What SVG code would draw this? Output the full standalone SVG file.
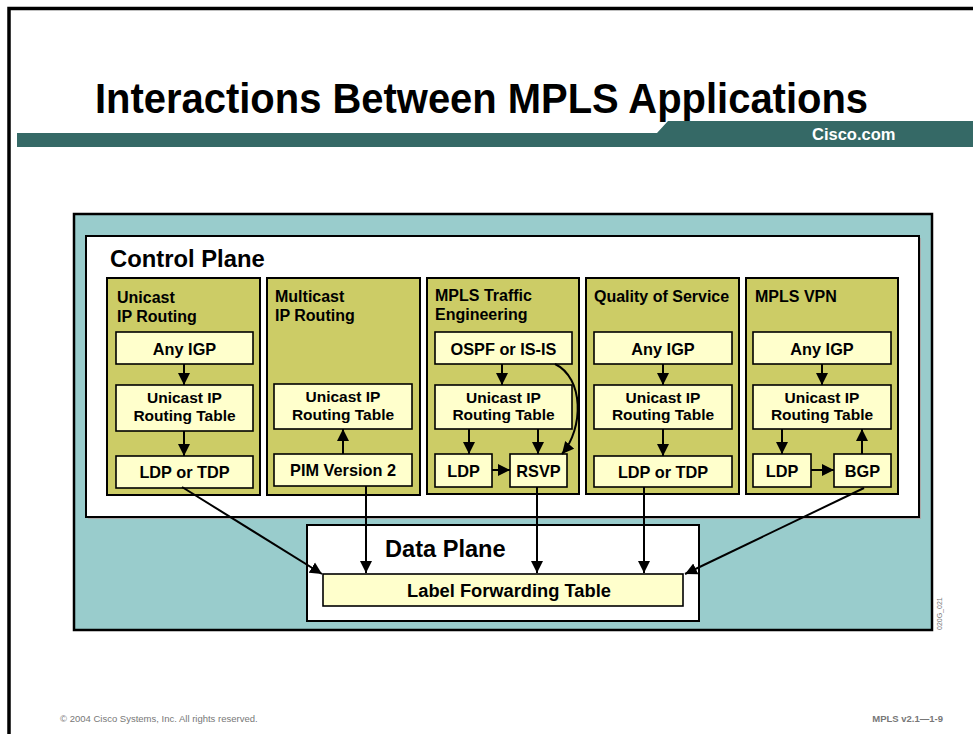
<svg xmlns="http://www.w3.org/2000/svg" width="973" height="734" viewBox="0 0 973 734">
<defs>
<style>
.t{font-family:"Liberation Sans",Arial,sans-serif;font-weight:bold;fill:#000}
.hd{font-size:16px}
.bx{font-size:16.3px;text-anchor:middle}
.tb{font-size:15.5px}
.col{fill:#cccc66;stroke:#000;stroke-width:2}
.box{fill:#ffffcc;stroke:#000;stroke-width:1.6}
.ln{fill:none;stroke:#000;stroke-width:2}
.ft{font-family:"Liberation Sans",Arial,sans-serif;fill:#777;font-size:9.5px}
</style>
<marker id="ah" markerUnits="userSpaceOnUse" markerWidth="13" markerHeight="13" viewBox="0 0 13 13" refX="12" refY="6.5" orient="auto">
<path d="M0,0.5 L12,6.5 L0,12.5 Z" fill="#000"/>
</marker>
</defs>
<rect width="973" height="734" fill="#fff"/>
<!-- frame -->
<path d="M9,734 V8.5 H973" fill="none" stroke="#000" stroke-width="3.5"/>
<!-- title -->
<text class="t" x="95" y="113" font-size="42" textLength="773" lengthAdjust="spacingAndGlyphs">Interactions Between MPLS Applications</text>
<path d="M17,133 H657 L668,121 H973 V147 H17 Z" fill="#356966"/>
<text class="t" x="812" y="140" font-size="16.5" style="fill:#fff">Cisco.com</text>

<!-- outer teal -->
<g id="outer">
<rect x="74" y="214" width="858" height="416" fill="#99cccc" stroke="#000" stroke-width="2.5"/>
</g>
<g id="control-plane">
<rect x="88" y="238" width="833" height="281" fill="#aaa"/>
<rect x="86" y="236" width="833" height="281" fill="#fff" stroke="#000" stroke-width="2"/>
<text class="t" x="110" y="267" font-size="23.8">Control Plane</text>
</g>

<g id="col-unicast">
<rect class="col" x="107" y="278" width="153" height="217"/>
<text class="t hd" x="117" y="303">Unicast</text>
<text class="t hd" x="117" y="322">IP Routing</text>
</g>
<g id="c1-igp"><rect class="box" x="116" y="332" width="137" height="32"/><text class="t bx" x="184.5" y="355">Any IGP</text></g>
<g id="c1-table"><rect class="box" x="116" y="385" width="137" height="46"/><text class="t bx tb" x="184.5" y="403">Unicast IP</text><text class="t bx tb" x="184.5" y="420.5">Routing Table</text></g>
<g id="c1-ldp"><rect class="box" x="116" y="456" width="137" height="32"/><text class="t bx" x="184.5" y="478">LDP or TDP</text></g>

<g id="col-multicast">
<rect class="col" x="267" y="278" width="153" height="217"/>
<text class="t hd" x="275" y="302">Multicast</text>
<text class="t hd" x="275" y="321">IP Routing</text>
</g>
<g id="c2-table"><rect class="box" x="274" y="384" width="138" height="45"/><text class="t bx tb" x="343" y="402">Unicast IP</text><text class="t bx tb" x="343" y="419.5">Routing Table</text></g>
<g id="c2-pim"><rect class="box" x="274" y="454" width="138" height="32"/><text class="t bx" x="343" y="476">PIM Version 2</text></g>

<g id="col-te">
<rect class="col" x="427" y="278" width="152" height="216"/>
<text class="t hd" x="435" y="301">MPLS Traffic</text>
<text class="t hd" x="435" y="320">Engineering</text>
</g>
<g id="c3-ospf"><rect class="box" x="435" y="332" width="137" height="32"/><text class="t bx" x="503.5" y="355">OSPF or IS-IS</text></g>
<g id="c3-table"><rect class="box" x="435" y="385" width="137" height="44"/><text class="t bx tb" x="503.5" y="402.5">Unicast IP</text><text class="t bx tb" x="503.5" y="420">Routing Table</text></g>
<g id="c3-ldp"><rect class="box" x="435" y="454" width="57" height="33"/><text class="t bx" x="463.5" y="477">LDP</text></g>
<g id="c3-rsvp"><rect class="box" x="510" y="454" width="57" height="33"/><text class="t bx" x="538.5" y="477">RSVP</text></g>

<g id="col-qos">
<rect class="col" x="586" y="278" width="153" height="216"/>
<text class="t hd" x="594" y="302">Quality of Service</text>
</g>
<g id="c4-igp"><rect class="box" x="594" y="332" width="138" height="32"/><text class="t bx" x="663" y="355">Any IGP</text></g>
<g id="c4-table"><rect class="box" x="594" y="385" width="138" height="44"/><text class="t bx tb" x="663" y="402.5">Unicast IP</text><text class="t bx tb" x="663" y="420">Routing Table</text></g>
<g id="c4-ldp"><rect class="box" x="594" y="456" width="138" height="31"/><text class="t bx" x="663" y="478">LDP or TDP</text></g>

<g id="col-vpn">
<rect class="col" x="746" y="278" width="152" height="216"/>
<text class="t hd" x="755" y="302">MPLS VPN</text>
</g>
<g id="c5-igp"><rect class="box" x="753" y="332" width="138" height="32"/><text class="t bx" x="822" y="355">Any IGP</text></g>
<g id="c5-table"><rect class="box" x="753" y="385" width="138" height="44"/><text class="t bx tb" x="822" y="402.5">Unicast IP</text><text class="t bx tb" x="822" y="420">Routing Table</text></g>
<g id="c5-ldp"><rect class="box" x="753" y="454" width="58" height="33"/><text class="t bx" x="782" y="477">LDP</text></g>
<g id="c5-bgp"><rect class="box" x="834" y="454" width="57" height="33"/><text class="t bx" x="862.5" y="477">BGP</text></g>

<g id="data-plane">
<rect x="307" y="525" width="392" height="96" fill="#fff" stroke="#000" stroke-width="2"/>
<text class="t" x="385" y="557" font-size="23.6">Data Plane</text>
</g>
<g id="lft">
<rect class="box" x="323" y="574" width="360" height="32"/>
<text class="t" x="509" y="597" font-size="18.3" text-anchor="middle">Label Forwarding Table</text>
</g>

<g id="connectors">
<line class="ln" x1="184" y1="364" x2="184" y2="385" marker-end="url(#ah)"/>
<line class="ln" x1="184" y1="431" x2="184" y2="456" marker-end="url(#ah)"/>
<line class="ln" x1="343" y1="454" x2="343" y2="429" marker-end="url(#ah)"/>
<line class="ln" x1="502" y1="364" x2="502" y2="385" marker-end="url(#ah)"/>
<line class="ln" x1="469" y1="429" x2="469" y2="454" marker-end="url(#ah)"/>
<line class="ln" x1="538" y1="429" x2="538" y2="454" marker-end="url(#ah)"/>
<line class="ln" x1="492" y1="470" x2="510" y2="470" marker-end="url(#ah)"/>
<path class="ln" d="M555,364 C584,378 584,428 562,454" marker-end="url(#ah)"/>
<line class="ln" x1="663" y1="364" x2="663" y2="385" marker-end="url(#ah)"/>
<line class="ln" x1="663" y1="429" x2="663" y2="456" marker-end="url(#ah)"/>
<line class="ln" x1="822" y1="364" x2="822" y2="385" marker-end="url(#ah)"/>
<line class="ln" x1="782" y1="429" x2="782" y2="454" marker-end="url(#ah)"/>
<line class="ln" x1="862" y1="454" x2="862" y2="429" marker-end="url(#ah)"/>
<line class="ln" x1="811" y1="470" x2="834" y2="470" marker-end="url(#ah)"/>
<line class="ln" x1="182" y1="487" x2="322" y2="574" marker-end="url(#ah)"/>
<line class="ln" x1="366" y1="486" x2="366" y2="573" marker-end="url(#ah)"/>
<line class="ln" x1="537" y1="487" x2="537" y2="573" marker-end="url(#ah)"/>
<line class="ln" x1="644" y1="487" x2="644" y2="573" marker-end="url(#ah)"/>
<line class="ln" x1="864" y1="488" x2="685" y2="574" marker-end="url(#ah)"/>
</g>

<text class="ft" x="939" y="630" transform="rotate(-90 939 630)" dy="3" style="font-size:7px">020G_021</text>
<text class="ft" x="60" y="722">© 2004 Cisco Systems, Inc. All rights reserved.</text>
<text class="ft" x="943" y="722" text-anchor="end" style="font-weight:bold">MPLS v2.1—1-9</text>
</svg>
